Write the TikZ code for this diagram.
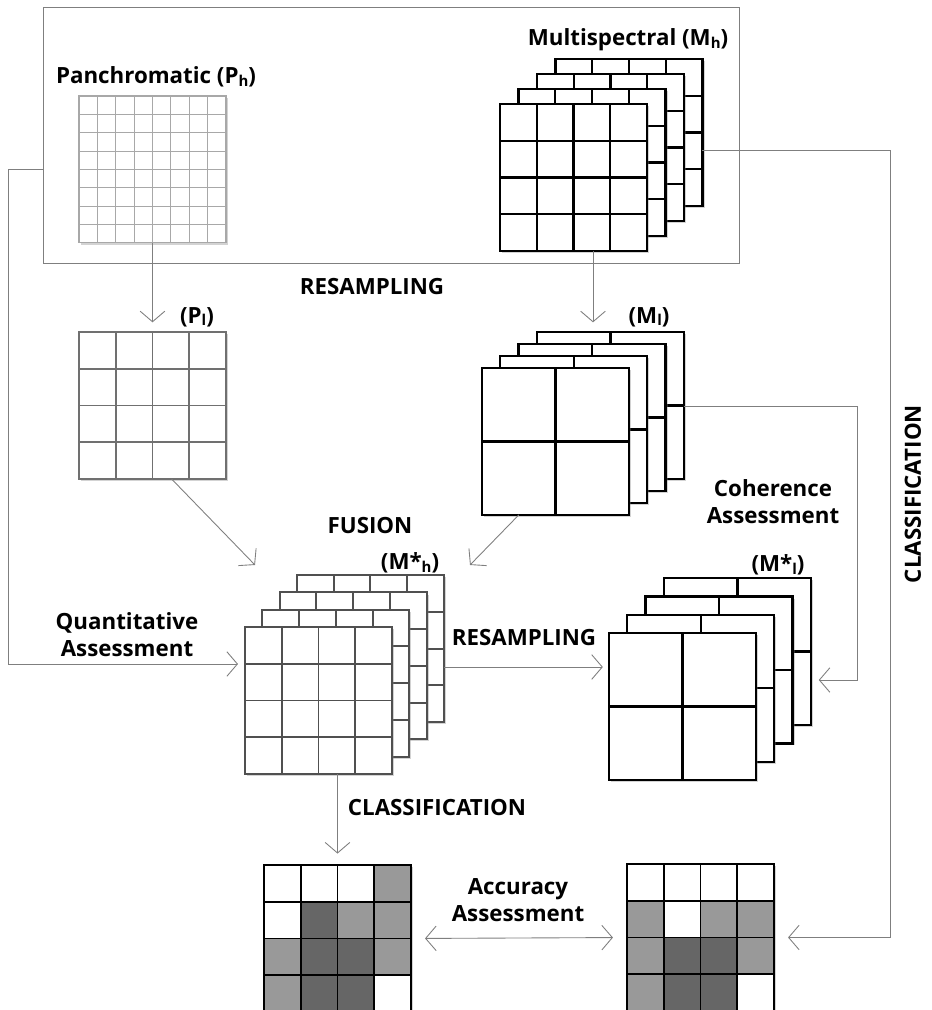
\documentclass[tikz,border=0pt]{standalone}
\usepackage{fontspec}
\setmainfont{Open Sans}
\usetikzlibrary{calc,arrows.meta,shadows}

\definecolor{linegray}{HTML}{7F7F7F}
\definecolor{pangray}{HTML}{A8A8A8}
\definecolor{plgray}{HTML}{707070}
\definecolor{mfhgray}{HTML}{505050}
\definecolor{cellw}{HTML}{FFFFFF}
\definecolor{cellg}{HTML}{999999}
\definecolor{celld}{HTML}{666666}

\tikzset{
  plane/.style={fill=white, minimum width=2.94cm, minimum height=2.94cm,
    inner sep=0pt, outer sep=0pt,
    drop shadow={shadow xshift=1.2pt, shadow yshift=-1.2pt, opacity=0.35}},
  panline/.style={draw=pangray, line width=0.6pt},
  plline/.style={draw=plgray, line width=1.1pt},
  msline/.style={draw=black, line width=1.3pt},
  mfhline/.style={draw=mfhgray, line width=1.1pt},
  mapline/.style={draw=black, line width=1.1pt},
  conn/.style={draw=linegray, line width=0.5pt, ->,
    >={Straight Barb[length=6pt,width=14pt]}},
  lbl/.style={font=\fontsize{12.7}{15.3}\selectfont\bfseries, align=center, inner sep=1pt},
}

\newcommand\idx[1]{\raisebox{-0.2ex}{\fontsize{8.5}{8.5}\selectfont #1}}

% border and inner lines of one image plane
\newcommand\gridlines[3]{%
  \draw[#3] (#1.north west) rectangle (#1.south east);
  \foreach \f in {#2} {
    \draw[#3] ($(#1.north west)!\f!(#1.north east)$) -- ($(#1.south west)!\f!(#1.south east)$);
    \draw[#3] ($(#1.north west)!\f!(#1.south west)$) -- ($(#1.north east)!\f!(#1.south east)$);
  }}
\newcommand\plane[4]{%
  \node[plane, anchor=north west] (#1) at (#2) {};
  \gridlines{#1}{#3}{#4}}
% four bands, back to front
\newcommand\stack[7]{%
  \foreach \k in {3,2,1}
    {\plane{#1-\k}{#2+\k*#4,#3-\k*#5}{#6}{#7}}
  \plane{#1}{#2,#3}{#6}{#7}}
% classified map, cells row by row
\newcommand\classmap[3]{%
  \node[plane, anchor=north west] (#1) at (#2) {};
  \foreach \c [count=\i from 0] in {#3} {
    \pgfmathtruncatemacro\maprow{\i/4}
    \pgfmathtruncatemacro\mapcol{mod(\i,4)}
    \fill[cell\c] ($(#1.north west)+(\mapcol*36.75,\maprow*36.75)$) rectangle ++(36.75,36.75);
  }
  \gridlines{#1}{0.25,0.5,0.75}{mapline}}

\begin{document}
\begin{tikzpicture}[x=0.02cm, y=-0.02cm]
  \useasboundingbox (0,0) rectangle (932,1010);

  % original images
  \node[draw=linegray, line width=0.5pt, minimum width=13.94cm, minimum height=5.12cm,
    inner sep=0pt, outer sep=0pt, anchor=north west] (inputs) at (43,7) {};
  \plane{pan}{79,96}{0.125,0.25,...,0.875}{panline}
  \stack{ms}{500}{104}{18.5}{15}{0.25,0.5,0.75}{msline}
  \node[lbl] (panlbl) at (156,77) {Panchromatic (P\idx{h})};
  \node[lbl] (mslbl) at (628,40) {Multispectral (M\idx{h})};

  % degraded images
  \plane{pl}{79,332}{0.25,0.5,0.75}{plline}
  \stack{ml}{482}{368}{18.3}{12}{0.5}{msline}
  \node[lbl] (rslbl) at (372,287) {RESAMPLING};
  \node[lbl] (pllbl) at (197,317) {(P\idx{l})};
  \node[lbl] (mllbl) at (649,317) {(M\idx{l})};

  % fused images
  \stack{mfh}{245}{627}{17.3}{17.3}{0.25,0.5,0.75}{mfhline}
  \stack{mfl}{609}{633}{18.3}{18.3}{0.5}{msline}
  \node[lbl] (fuslbl) at (370,526) {FUSION};
  \node[lbl] (mfhlbl) at (410,563) {(M*\idx{h})};
  \node[lbl] (mfllbl) at (778,565) {(M*\idx{l})};
  \node[lbl] (cohlbl) at (773,502) {Coherence\\Assessment};
  \node[lbl] (qualbl) at (127,635) {Quantitative\\Assessment};
  \node[lbl] (rs2lbl) at (524,638) {RESAMPLING};

  % classified maps
  \classmap{cls}{264,865}{w,w,w,g,w,d,g,g,g,d,d,g,g,d,d,w}
  \classmap{ref}{627,864}{w,w,w,w,g,w,g,g,g,d,d,g,g,d,d,w}
  \node[lbl] (clslbl) at (437,808) {CLASSIFICATION};
  \node[lbl, rotate=90] (cl2lbl) at (913,494) {CLASSIFICATION};
  \node[lbl] (acclbl) at (518,900) {Accuracy\\Assessment};

  % connectors
  \coordinate (msdown) at (593,0);
  \coordinate (fusea) at (255,565);
  \coordinate (fuseb) at (470,565);
  \coordinate (qa) at (0,664);
  \coordinate (qastart) at (43,169);
  \coordinate (rs) at (0,667);
  \coordinate (coh) at (857,406);
  \coordinate (cohin) at (0,680);
  \coordinate (clr) at (890,150);
  \draw[conn, shorten >=5.5pt] (pan.south) -- (pan.south |- pl.north);
  \draw[conn, shorten >=5.5pt] (msdown |- ms.south) -- (msdown |- ml-3.north);
  \draw[conn] ($(pl.south west)!0.63!(pl.south east)$) -- (fusea);
  \draw[conn] ($(ml.south west)!0.25!(ml.south east)$) -- (fuseb);
  \draw[conn, shorten >=4pt] (qastart) -- ++(-35,0) |- (qa -| mfh.west);
  \draw[conn, shorten >=3.5pt] (rs -| mfh-3.east) -- (rs -| mfl.west);
  \draw[conn, shorten >=4.5pt] (ml-3.east |- coh) -- (coh) |- (cohin -| mfl-3.east);
  \draw[conn, shorten >=8pt] (ms-3.east |- clr) -- (clr) |- (ref.east);
  \draw[conn, shorten >=6.5pt] (cls.north |- mfh.south) -- (cls.north);
  \draw[conn, <->, shorten >=8pt, shorten <=8pt] (cls.east) -- (ref.west);
\end{tikzpicture}
\end{document}
